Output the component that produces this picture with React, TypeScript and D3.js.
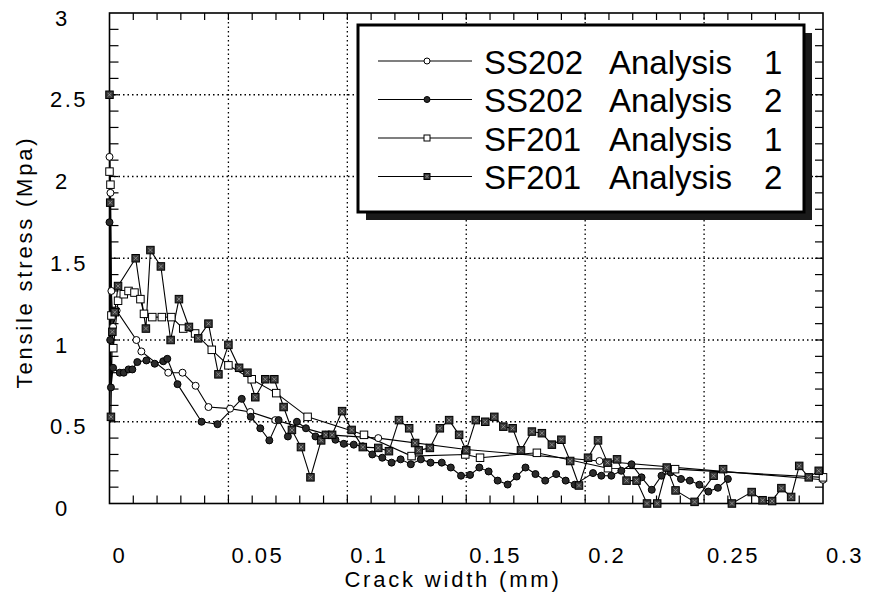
import React from "react";
import * as d3 from "d3";

const xTickValues = [0, 0.05, 0.1, 0.15, 0.2, 0.25, 0.3];
const xTickLabels = ["0", "0.05", "0.1", "0.15", "0.2", "0.25", "0.3"];
const yTickValues = [0, 0.5, 1, 1.5, 2, 2.5, 3];
const yTickLabels = ["0", "0.5", "1", "1.5", "2", "2.5", "3"];

const legendNames = ["SS202", "SS202", "SF201", "SF201"];
const legendRuns = ["1", "2", "1", "2"];

// SS202 Analysis 1 (open circles)
const ss202a1: [number, number][] = [
  [0, 2.12], [0.0004, 1.9], [0.0008, 1.3], [0.0015, 1.08], [0.003, 1.18],
  [0.0113, 1.0], [0.0134, 0.93], [0.0247, 0.8], [0.0307, 0.8], [0.0362, 0.72],
  [0.0416, 0.59], [0.0507, 0.58], [0.0592, 0.56], [0.0697, 0.51],
  [0.0922, 0.42], [0.113, 0.4], [0.15, 0.33], [0.206, 0.26], [0.3, 0.145],
];

// SS202 Analysis 2 (filled circles)
const ss202a2: [number, number][] = [
  [0, 1.72], [0.0003, 1.0], [0.0006, 0.71], [0.0015, 0.83], [0.0043, 0.8],
  [0.006, 0.8], [0.008, 0.82], [0.0096, 0.82], [0.0117, 0.865], [0.0155, 0.875],
  [0.019, 0.855], [0.0226, 0.87], [0.0243, 0.885], [0.0286, 0.73], [0.0387, 0.5],
  [0.0454, 0.485], [0.0556, 0.64], [0.0594, 0.53], [0.0634, 0.46],
  [0.0672, 0.386], [0.0711, 0.51], [0.075, 0.41], [0.0788, 0.5], [0.0826, 0.46],
  [0.0866, 0.41], [0.0908, 0.42], [0.095, 0.39], [0.0985, 0.365], [0.1027, 0.36],
  [0.1065, 0.35], [0.1105, 0.3], [0.1147, 0.28], [0.1186, 0.25], [0.1224, 0.27],
  [0.1267, 0.24], [0.1309, 0.27], [0.135, 0.25], [0.1397, 0.25], [0.1435, 0.22],
  [0.1478, 0.17], [0.1516, 0.175], [0.1555, 0.22], [0.1594, 0.196], [0.1632, 0.14],
  [0.1674, 0.116], [0.1712, 0.165], [0.1749, 0.22], [0.1791, 0.18], [0.1832, 0.14],
  [0.1878, 0.18], [0.1918, 0.14], [0.1956, 0.115], [0.2033, 0.186], [0.2068, 0.17],
  [0.211, 0.17], [0.2152, 0.2], [0.2195, 0.24], [0.2237, 0.16], [0.228, 0.084],
  [0.2321, 0.17], [0.2359, 0.19], [0.2403, 0.15], [0.244, 0.14], [0.248, 0.115],
  [0.2518, 0.073], [0.2558, 0.096], [0.26, 0.15],
];

// SF201 Analysis 1 (open squares)
const sf201a1: [number, number][] = [
  [0, 2.03], [0.0004, 1.95], [0.0008, 1.15], [0.0016, 0.95], [0.0036, 1.24],
  [0.006, 1.28], [0.008, 1.3], [0.0105, 1.29], [0.013, 1.25], [0.0145, 1.16],
  [0.018, 1.14], [0.022, 1.14], [0.026, 1.14], [0.031, 1.07], [0.036, 1.04],
  [0.043, 0.94], [0.05, 0.845], [0.0598, 0.76], [0.0701, 0.675], [0.0833, 0.53],
  [0.107, 0.42], [0.127, 0.29], [0.1496, 0.3], [0.1558, 0.28], [0.1797, 0.31],
  [0.2096, 0.216], [0.2378, 0.21], [0.3, 0.16],
];

// SF201 Analysis 2 (filled squares)
const sf201a2: [number, number][] = [
  [0, 2.5], [0.0003, 1.84], [0.0006, 0.53], [0.0012, 1.05], [0.0022, 1.17],
  [0.0036, 1.33], [0.011, 1.5], [0.0153, 1.07], [0.0172, 1.55], [0.0216, 1.45],
  [0.0257, 1.0], [0.0292, 1.25], [0.0334, 1.08], [0.0373, 1.01], [0.0416, 1.1],
  [0.0458, 0.79], [0.05, 0.97], [0.0545, 0.83], [0.058, 0.8], [0.0613, 0.65],
  [0.0655, 0.76], [0.0693, 0.76], [0.0732, 0.59], [0.0767, 0.45], [0.0805, 0.345],
  [0.0845, 0.16], [0.089, 0.386], [0.091, 0.42], [0.0936, 0.42], [0.0978, 0.565],
  [0.1018, 0.45], [0.1065, 0.345], [0.113, 0.34], [0.1175, 0.32], [0.1217, 0.51],
  [0.126, 0.46], [0.1285, 0.37], [0.13, 0.325], [0.1347, 0.34], [0.1389, 0.46],
  [0.1428, 0.51], [0.147, 0.42], [0.15, 0.325], [0.154, 0.51], [0.158, 0.5],
  [0.1618, 0.53], [0.1656, 0.47], [0.1695, 0.46], [0.173, 0.325], [0.1776, 0.44],
  [0.1818, 0.43], [0.186, 0.36], [0.19, 0.39], [0.1937, 0.26], [0.1974, 0.11],
  [0.2012, 0.28], [0.2054, 0.386], [0.2094, 0.25], [0.2134, 0.27], [0.2174, 0.14],
  [0.2216, 0.14], [0.226, 0.0], [0.2303, 0.0], [0.2343, 0.22], [0.238, 0.08],
  [0.246, 0.01], [0.254, 0.17], [0.258, 0.21], [0.2617, 0.0], [0.27, 0.07],
  [0.2746, 0.02], [0.2786, 0.015], [0.2825, 0.094], [0.2866, 0.04], [0.29, 0.23],
  [0.294, 0.16], [0.2982, 0.2],
];

const seriesList = [
  { data: ss202a1, marker: "circle", filled: false },
  { data: ss202a2, marker: "circle", filled: true },
  { data: sf201a1, marker: "square", filled: false },
  { data: sf201a2, marker: "square", filled: true },
];

const W = 871;
const H = 593;
const L = 109.5, R = 823, T = 13, B = 503.5;
const FONT = "'Liberation Sans', Arial, Helvetica, sans-serif";

function Marker({ type, filled, cx, cy, s }: { type: string; filled: boolean; cx: number; cy: number; s: number }) {
  if (type === "circle") {
    return <circle cx={cx} cy={cy} r={s / 2} fill={filled ? "#2b2b2b" : "#fff"} stroke="#000" strokeWidth={1} />;
  }
  return (
    <g>
      <rect x={cx - s / 2} y={cy - s / 2} width={s} height={s} fill={filled ? "#3a3a3a" : "#fff"} stroke="#000" strokeWidth={1} />
      {filled && (
        <path d={`M${cx - s / 4},${cy - s / 4}L${cx + s / 4},${cy + s / 4}M${cx + s / 4},${cy - s / 4}L${cx - s / 4},${cy + s / 4}`} stroke="#999" strokeWidth={0.8} />
      )}
    </g>
  );
}

export default function App() {
  const x = d3.scaleLinear().domain([0, 0.3]).range([L, R]);
  const y = d3.scaleLinear().domain([0, 3]).range([B, T]);
  const line = d3.line<[number, number]>().x((d) => x(d[0])).y((d) => y(d[1]));

  const xMinor = d3.range(1, 30).map((i) => i / 100);
  const yMinor = d3.range(1, 30).map((i) => i / 10);
  const gridX = [0.05, 0.1, 0.15, 0.2, 0.25];
  const gridY = [0.5, 1, 1.5, 2, 2.5];

  const legX = 358, legY = 25, legW = 446, legH = 187;
  const rowY = [61, 99.5, 138, 176.5];

  return (
    <svg width={W} height={H} style={{ position: "absolute", left: 0, top: 0, background: "#fff" }} fontFamily={FONT}>
      <rect x={0} y={0} width={W} height={H} fill="#fff" />
      {gridX.map((v) => (
        <line key={"gx" + v} x1={x(v)} x2={x(v)} y1={T} y2={B} stroke="#000" strokeWidth={1.3} strokeDasharray="1.5 3" />
      ))}
      {gridY.map((v) => (
        <line key={"gy" + v} x1={L} x2={R} y1={y(v)} y2={y(v)} stroke="#000" strokeWidth={1.3} strokeDasharray="1.5 3" />
      ))}
      {xMinor.map((v) => (
        <g key={"tx" + v}>
          <line x1={x(v)} x2={x(v)} y1={B} y2={B - 8} stroke="#000" strokeWidth={1.2} />
          <line x1={x(v)} x2={x(v)} y1={T} y2={T + 7} stroke="#000" strokeWidth={1.2} />
        </g>
      ))}
      {yMinor.map((v) => (
        <g key={"ty" + v}>
          <line x1={L} x2={L + 9} y1={y(v)} y2={y(v)} stroke="#000" strokeWidth={1.2} />
          <line x1={R} x2={R - 8} y1={y(v)} y2={y(v)} stroke="#000" strokeWidth={1.2} />
        </g>
      ))}
      <rect x={L} y={T} width={R - L} height={B - T} fill="none" stroke="#000" strokeWidth={1.6} />

      {seriesList.map((s, i) => (
        <path key={"l" + i} d={line(s.data) || ""} fill="none" stroke="#000" strokeWidth={1.1} />
      ))}
      {seriesList.map((s, i) => (
        <g key={"m" + i}>
          {s.data.map((d, j) => (
            <Marker key={j} type={s.marker} filled={s.filled} cx={x(d[0])} cy={y(d[1])} s={s.marker === "circle" ? 7 : 7.5} />
          ))}
        </g>
      ))}

      <rect x={legX + 8} y={legY + 8} width={legW} height={legH} fill="#1a1a1a" />
      <rect x={legX} y={legY} width={legW} height={legH} fill="#fff" stroke="#000" strokeWidth={3} />
      {seriesList.map((s, i) => (
        <g key={"lg" + i}>
          <line x1={378} x2={472} y1={rowY[i]} y2={rowY[i]} stroke="#000" strokeWidth={1.1} />
          <Marker type={s.marker} filled={s.filled} cx={427} cy={rowY[i]} s={6} />
          <text x={484} y={rowY[i] + 12.5} fontSize={33} fill="#000">{legendNames[i]}</text>
          <text x={609} y={rowY[i] + 12.5} fontSize={33} fill="#000">Analysis</text>
          <text x={764} y={rowY[i] + 12.5} fontSize={33} fill="#000">{legendRuns[i]}</text>
        </g>
      ))}

      {xTickValues.map((v, i) => (
        <text key={"xl" + v} x={x(v) + 3} y={563} fontSize={22} letterSpacing={2.5} fill="#000">{xTickLabels[i]}</text>
      ))}
      {yTickValues.map((v, i) => (
        <text key={"yl" + v} x={yTickLabels[i].length === 1 ? 55 : 50} y={y(v) + 12.5} fontSize={22} letterSpacing={2.5} fill="#000">{yTickLabels[i]}</text>
      ))}

      <text x={453} y={587} fontSize={22} letterSpacing={2.8} textAnchor="middle" fill="#000">Crack width (mm)</text>
      <text transform={`translate(32,262) rotate(-90)`} fontSize={22} letterSpacing={2.8} textAnchor="middle" fill="#000">Tensile stress (Mpa)</text>
    </svg>
  );
}
